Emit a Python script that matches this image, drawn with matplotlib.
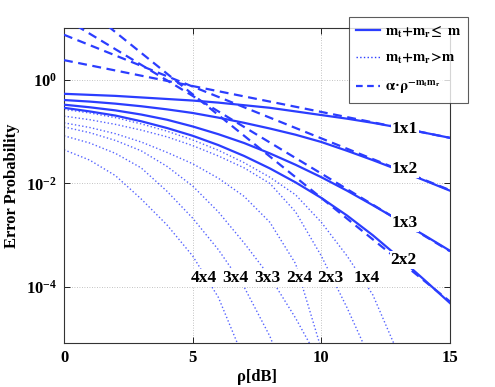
import numpy as np
import matplotlib
matplotlib.use("Agg")
import matplotlib.pyplot as plt
from matplotlib.lines import Line2D

plt.rcParams['font.family'] = ['Liberation Serif', 'DejaVu Serif']
plt.rcParams['font.weight'] = 'bold'
plt.rcParams['mathtext.fontset'] = 'stix'

BLUE = '#2b3dff'

snr = np.arange(0, 16)
# log10 of error probability (solid curves)
solid_names = ['1x1', '1x2', '1x3', '2x2']
solid_log = {
    '1x1': [-0.27, -0.29, -0.31, -0.34, -0.37, -0.40, -0.44, -0.49, -0.54, -0.61, -0.68, -0.75, -0.83, -0.92, -1.02, -1.12],
    '1x2': [-0.39, -0.42, -0.46, -0.51, -0.57, -0.64, -0.73, -0.83, -0.94, -1.06, -1.20, -1.37, -1.55, -1.74, -1.94, -2.14],
    '1x3': [-0.48, -0.53, -0.59, -0.67, -0.77, -0.90, -1.05, -1.22, -1.42, -1.64, -1.88, -2.14, -2.42, -2.71, -3.00, -3.30],
    '2x2': [-0.54, -0.61, -0.69, -0.80, -0.93, -1.08, -1.26, -1.47, -1.71, -1.98, -2.28, -2.62, -3.00, -3.42, -3.86, -4.31],
}
# dotted curves (log10), starting at 0 dB, 1 dB steps
dotted_names = ['1x4', '2x3', '2x4', '3x3', '3x4', '4x4']
dotted_log = {
    '1x4': [-0.57, -0.64, -0.73, -0.85, -0.99, -1.16, -1.36, -1.60, -1.88, -2.22, -2.75, -3.40, -4.15, -5.30],
    '2x3': [-0.70, -0.77, -0.86, -0.97, -1.10, -1.27, -1.47, -1.70, -2.00, -2.55, -3.40, -4.40, -5.50],
    '2x4': [-0.83, -0.92, -1.04, -1.20, -1.40, -1.62, -1.90, -2.25, -2.75, -3.55, -5.20],
    '3x3': [-0.91, -1.02, -1.17, -1.37, -1.67, -2.05, -2.55, -3.15, -3.80, -4.60, -5.50],
    '3x4': [-1.08, -1.22, -1.42, -1.70, -2.15, -2.67, -3.28, -4.00, -4.95, -6.20],
    '4x4': [-1.35, -1.55, -1.85, -2.30, -2.80, -3.40, -4.20, -5.40],
}
# asymptotes alpha*rho^(-mt*mr): log10 values at 0 dB and 15 dB
asym_x = [0, 15]
asym_log = {
    '1x1': [0.38, -1.12],
    '1x2': [0.87, -2.13],
    '1x3': [1.19, -3.31],
    '2x2': [1.72, -4.28],
}
# curve labels: (x, log10 y)
label_pos = {
    '1x1': (13.25, -0.95), '1x2': (13.25, -1.72), '1x3': (13.25, -2.77), '2x2': (13.2, -3.48),
    '4x4': (5.43, -3.82), '3x4': (6.67, -3.82), '3x3': (7.9, -3.82),
    '2x4': (9.15, -3.82), '2x3': (10.35, -3.82), '1x4': (11.78, -3.82),
}

fig = plt.figure(figsize=(4.95, 3.87), dpi=100)
ax = fig.add_axes([0.1293, 0.1137, 0.7798, 0.8139])

for n in solid_names:
    ax.semilogy(snr, 10 ** np.array(solid_log[n]), '-', color=BLUE, lw=1.6, zorder=3)
for n in dotted_names:
    v = np.array(dotted_log[n])
    ax.semilogy(snr[:len(v)], 10 ** v, ':', color=BLUE, lw=1.0, alpha=0.8, zorder=2)
for n in solid_names:
    ax.semilogy(asym_x, 10 ** np.array(asym_log[n]), '--', color=BLUE, lw=1.6, dashes=(4, 2.5), zorder=3)

for n, (x, ly) in label_pos.items():
    ax.text(x, 10 ** ly, n, ha='center', va='center', fontsize=12.5, fontweight='bold',
            bbox=dict(facecolor='white', edgecolor='none', pad=0.8), zorder=5)

ax.set_xlim(0, 15)
ax.set_ylim(10 ** -5.08, 10)
ax.set_xticks([0, 5, 10, 15])
ax.set_yticks([1e0, 1e-2, 1e-4])
ax.yaxis.set_minor_locator(matplotlib.ticker.NullLocator())
ax.tick_params(direction='in', length=4, labelsize=12, top=True, right=True, width=0.6, pad=5)
for lab in ax.get_xticklabels() + ax.get_yticklabels():
    lab.set_fontweight('bold')
ax.grid(True, which='major', linestyle=(0, (1, 2)), color='#b0b0b0', lw=0.6)
for s in ax.spines.values():
    s.set_linewidth(0.8)
    s.set_color('#333333')

ax.set_xlabel('\u03c1[dB]', fontsize=12, fontweight='bold', labelpad=2)
ax.set_ylabel('Error Probability', fontsize=12, fontweight='bold', labelpad=4)

handles = [Line2D([], [], color=BLUE, ls='-', lw=1.6),
           Line2D([], [], color=BLUE, ls=':', lw=1.0),
           Line2D([], [], color=BLUE, ls='--', lw=1.6, dashes=(3, 2))]
labels = [r'$\mathbf{m_t{+}m_r\!\leq\ m}$', r'$\mathbf{m_t{+}m_r\!>\!m}$',
          r'$\mathrm{\alpha}$' + '\u00b7' + r'$\mathrm{\rho}^{-\mathbf{m_t m_r}}$']
leg = fig.legend(handles, labels, loc='upper right', bbox_to_anchor=(468 / 495, 1 - 17 / 387),
                 fontsize=10.5, frameon=True, fancybox=False, edgecolor='#333333', handlelength=1.7,
                 borderpad=0.45, labelspacing=0.85, handletextpad=0.3, borderaxespad=0)
leg.get_frame().set_linewidth(0.8)
leg.set_zorder(10)

fig.savefig('out.png', dpi=100)
